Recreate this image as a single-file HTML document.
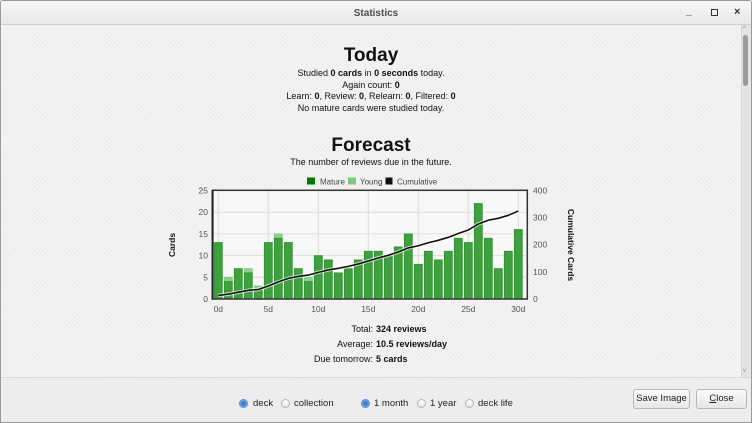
<!DOCTYPE html>
<html><head><meta charset="utf-8">
<style>
*{margin:0;padding:0;box-sizing:border-box}
body{width:752px;height:423px;overflow:hidden;background:#ececec;font-family:"Liberation Sans",sans-serif;position:relative;color:#111}
.abs{position:absolute}
.win{position:absolute;left:0;top:0;width:752px;height:423px;border:1px solid #9a9a9a;border-radius:3px 3px 0 0}
.title{position:absolute;left:1px;top:1px;width:750px;height:24px;background:linear-gradient(#f7f7f7,#e8e8e8);border-bottom:1px solid #cfcfcf}
.content{position:absolute;left:1px;top:25px;width:740px;height:352px;background:#f1f1f1;
background-image:repeating-linear-gradient(45deg,rgba(255,255,255,.35) 0 1px,transparent 1px 3px),repeating-linear-gradient(-45deg,rgba(0,0,0,.025) 0 1px,transparent 1px 3px)}
.scroll{position:absolute;left:741px;top:25px;width:10px;height:352px;background:#e4e4e4;border-left:1px solid #d6d6d6}
.thumb{position:absolute;left:743px;top:35px;width:5px;height:51px;background:#9c9c9c;border-radius:3px}
.bottom{position:absolute;left:1px;top:377px;width:750px;height:45px;background:#ededed;border-top:1px solid #d8d8d8}
.c{position:absolute;left:0;width:742px;text-align:center;font-size:9px;line-height:11px}
.h{font-weight:bold;font-size:19px;line-height:22px}
.radio{position:absolute;width:9px;height:9px;border-radius:50%;border:1px solid #b5b5b5;background:linear-gradient(#fff,#e6e6e6);top:399px}
.radio.on{background:radial-gradient(circle,#3d7fd6 0 2px,#6ea6e8 3px);border-color:#5a8fd0}
.rl{position:absolute;top:398px;font-size:9.5px;color:#222}
.btn{position:absolute;top:389px;height:20px;border:1px solid #b8b8b8;border-radius:3px;background:linear-gradient(#fafafa,#e6e6e6);font-size:9.5px;text-align:center;line-height:18px;color:#222}
</style></head><body>
<div class="content"></div>
<div class="title"></div>
<div class="abs" style="left:0;top:8px;width:752px;text-align:center;font-size:10px;font-weight:bold;color:#4d4d4d">Statistics</div>
<div class="abs" style="left:686px;top:6px;font-size:10px;font-weight:bold;color:#333">_</div>
<div class="abs" style="left:711px;top:9px;width:7px;height:7px;border:1.5px solid #333"></div>
<div class="abs" style="left:734px;top:6px;font-size:11px;font-weight:bold;color:#333">×</div>
<div class="scroll"></div>
<div class="thumb"></div>
<div class="abs" style="left:743px;top:26px;font-size:6px;color:#888">^</div>
<div class="abs" style="left:743px;top:368px;font-size:6px;color:#888">v</div>

<div class="c h" style="top:45px">Today</div>
<div class="c" style="top:68px">Studied <b>0 cards</b> in <b>0 seconds</b> today.</div>
<div class="c" style="top:80px">Again count: <b>0</b></div>
<div class="c" style="top:91px">Learn: <b>0</b>, Review: <b>0</b>, Relearn: <b>0</b>, Filtered: <b>0</b></div>
<div class="c" style="top:103px">No mature cards were studied today.</div>

<div class="c h" style="top:135px">Forecast</div>
<div class="c" style="top:157px">The number of reviews due in the future.</div>

<svg class="abs" style="left:0;top:0" width="752" height="423" viewBox="0 0 752 423">
  <rect x="307" y="177.5" width="8" height="7" fill="#007700"/>
  <rect x="348" y="177.5" width="8" height="7" fill="#77cc77"/>
  <rect x="385.5" y="177.5" width="7" height="7" fill="#111"/>
  <g font-family="Liberation Sans, sans-serif" font-size="8" fill="#444">
    <text x="320" y="184.3">Mature</text>
    <text x="360" y="184.3">Young</text>
    <text x="397" y="184.3">Cumulative</text>
  </g>
  <rect x="212.3" y="190.3" width="315" height="108.7" fill="#f8f8f8"/>
  <g stroke="#dcdcdc" stroke-width="1">
    <line x1="218.3" y1="190.3" x2="218.3" y2="299"/>
    <line x1="268.3" y1="190.3" x2="268.3" y2="299"/>
    <line x1="318.3" y1="190.3" x2="318.3" y2="299"/>
    <line x1="368.3" y1="190.3" x2="368.3" y2="299"/>
    <line x1="418.3" y1="190.3" x2="418.3" y2="299"/>
    <line x1="468.3" y1="190.3" x2="468.3" y2="299"/>
    <line x1="518.3" y1="190.3" x2="518.3" y2="299"/>
    <line x1="212.3" y1="277.3" x2="527.3" y2="277.3"/>
    <line x1="212.3" y1="255.6" x2="527.3" y2="255.6"/>
    <line x1="212.3" y1="233.9" x2="527.3" y2="233.9"/>
    <line x1="212.3" y1="212.2" x2="527.3" y2="212.2"/>
  </g>
  <g transform="translate(218.3,299) scale(10,-4.34)">
    <g fill="#8fd08f" stroke="#80c880" stroke-width="0.8">
      <rect x="0.6" y="4" width="0.8" height="1" vector-effect="non-scaling-stroke"/>
      <rect x="2.6" y="6" width="0.8" height="1" vector-effect="non-scaling-stroke"/>
      <rect x="3.6" y="2" width="0.8" height="1" vector-effect="non-scaling-stroke"/>
      <rect x="5.6" y="14" width="0.8" height="1" vector-effect="non-scaling-stroke"/>
      <rect x="8.6" y="4" width="0.8" height="1" vector-effect="non-scaling-stroke"/>
    </g>
    <g fill="#40a040" stroke="#2f902f" stroke-width="0.8">
      <rect x="-0.4" y="0" width="0.8" height="13" vector-effect="non-scaling-stroke"/>
      <rect x="0.6" y="0" width="0.8" height="4" vector-effect="non-scaling-stroke"/>
      <rect x="1.6" y="0" width="0.8" height="7" vector-effect="non-scaling-stroke"/>
      <rect x="2.6" y="0" width="0.8" height="6" vector-effect="non-scaling-stroke"/>
      <rect x="3.6" y="0" width="0.8" height="2" vector-effect="non-scaling-stroke"/>
      <rect x="4.6" y="0" width="0.8" height="13" vector-effect="non-scaling-stroke"/>
      <rect x="5.6" y="0" width="0.8" height="14" vector-effect="non-scaling-stroke"/>
      <rect x="6.6" y="0" width="0.8" height="13" vector-effect="non-scaling-stroke"/>
      <rect x="7.6" y="0" width="0.8" height="7" vector-effect="non-scaling-stroke"/>
      <rect x="8.6" y="0" width="0.8" height="4" vector-effect="non-scaling-stroke"/>
      <rect x="9.6" y="0" width="0.8" height="10" vector-effect="non-scaling-stroke"/>
      <rect x="10.6" y="0" width="0.8" height="9" vector-effect="non-scaling-stroke"/>
      <rect x="11.6" y="0" width="0.8" height="6" vector-effect="non-scaling-stroke"/>
      <rect x="12.6" y="0" width="0.8" height="7" vector-effect="non-scaling-stroke"/>
      <rect x="13.6" y="0" width="0.8" height="9" vector-effect="non-scaling-stroke"/>
      <rect x="14.6" y="0" width="0.8" height="11" vector-effect="non-scaling-stroke"/>
      <rect x="15.6" y="0" width="0.8" height="11" vector-effect="non-scaling-stroke"/>
      <rect x="16.6" y="0" width="0.8" height="10" vector-effect="non-scaling-stroke"/>
      <rect x="17.6" y="0" width="0.8" height="12" vector-effect="non-scaling-stroke"/>
      <rect x="18.6" y="0" width="0.8" height="15" vector-effect="non-scaling-stroke"/>
      <rect x="19.6" y="0" width="0.8" height="8" vector-effect="non-scaling-stroke"/>
      <rect x="20.6" y="0" width="0.8" height="11" vector-effect="non-scaling-stroke"/>
      <rect x="21.6" y="0" width="0.8" height="9" vector-effect="non-scaling-stroke"/>
      <rect x="22.6" y="0" width="0.8" height="11" vector-effect="non-scaling-stroke"/>
      <rect x="23.6" y="0" width="0.8" height="14" vector-effect="non-scaling-stroke"/>
      <rect x="24.6" y="0" width="0.8" height="13" vector-effect="non-scaling-stroke"/>
      <rect x="25.6" y="0" width="0.8" height="22" vector-effect="non-scaling-stroke"/>
      <rect x="26.6" y="0" width="0.8" height="14" vector-effect="non-scaling-stroke"/>
      <rect x="27.6" y="0" width="0.8" height="7" vector-effect="non-scaling-stroke"/>
      <rect x="28.6" y="0" width="0.8" height="11" vector-effect="non-scaling-stroke"/>
      <rect x="29.6" y="0" width="0.8" height="16" vector-effect="non-scaling-stroke"/>
    </g>
  </g>
  <g transform="translate(218.3,299) scale(10,-0.2717)" fill="none">
    <polyline vector-effect="non-scaling-stroke" stroke="rgba(255,255,255,0.7)" stroke-width="3.5" stroke-linejoin="round" points="0,13 1,18 2,25 3,32 4,35 5,48 6,63 7,76 8,83 9,88 10,98 11,107 12,113 13,120 14,129 15,140 16,151 17,161 18,173 19,188 20,196 21,207 22,216 23,227 24,241 25,254 26,276 27,290 28,297 29,308 30,324"/>
    <polyline vector-effect="non-scaling-stroke" stroke="#111" stroke-width="1.6" stroke-linejoin="round" points="0,13 1,18 2,25 3,32 4,35 5,48 6,63 7,76 8,83 9,88 10,98 11,107 12,113 13,120 14,129 15,140 16,151 17,161 18,173 19,188 20,196 21,207 22,216 23,227 24,241 25,254 26,276 27,290 28,297 29,308 30,324"/>
  </g>
  <rect x="212.3" y="190.3" width="315" height="108.7" fill="none" stroke="#333" stroke-width="1.5"/>
  <line x1="212.6" y1="190" x2="212.6" y2="299.5" stroke="#222" stroke-width="2"/>
  <g font-family="Liberation Sans, sans-serif" font-size="8.5" fill="#555">
    <g text-anchor="end">
      <text x="208" y="193.5">25</text>
      <text x="208" y="215.2">20</text>
      <text x="208" y="236.9">15</text>
      <text x="208" y="258.6">10</text>
      <text x="208" y="280.3">5</text>
      <text x="208" y="302">0</text>
    </g>
    <g>
      <text x="533" y="193.5">400</text>
      <text x="533" y="220.7">300</text>
      <text x="533" y="247.7">200</text>
      <text x="533" y="274.8">100</text>
      <text x="533" y="302">0</text>
    </g>
    <g text-anchor="middle">
      <text x="218.3" y="312">0d</text>
      <text x="268.3" y="312">5d</text>
      <text x="318.3" y="312">10d</text>
      <text x="368.3" y="312">15d</text>
      <text x="418.3" y="312">20d</text>
      <text x="468.3" y="312">25d</text>
      <text x="518.3" y="312">30d</text>
    </g>
  </g>
  <g font-family="Liberation Sans, sans-serif" font-size="8.5" font-weight="bold" fill="#111" text-anchor="middle">
    <text transform="translate(175,245) rotate(-90)">Cards</text>
    <text transform="translate(568,245) rotate(90)">Cumulative Cards</text>
  </g>
</svg>

<div class="abs" style="left:0;top:322px;width:373px;text-align:right;font-size:9px;line-height:15px">Total:<br>Average:<br>Due tomorrow:</div>
<div class="abs" style="left:376px;top:322px;font-size:9px;line-height:15px;font-weight:bold">324 reviews<br>10.5 reviews/day<br>5 cards</div>

<div class="bottom"></div>
<div class="radio on" style="left:239px"></div><div class="rl" style="left:253px">deck</div>
<div class="radio" style="left:281px"></div><div class="rl" style="left:294px">collection</div>
<div class="radio on" style="left:361px"></div><div class="rl" style="left:374px">1 month</div>
<div class="radio" style="left:417px"></div><div class="rl" style="left:430px">1 year</div>
<div class="radio" style="left:465px"></div><div class="rl" style="left:478px">deck life</div>
<div class="btn" style="left:633px;width:57px">Save Image</div>
<div class="btn" style="left:696px;width:51px"><u>C</u>lose</div>
<div class="win"></div>
</body></html>
